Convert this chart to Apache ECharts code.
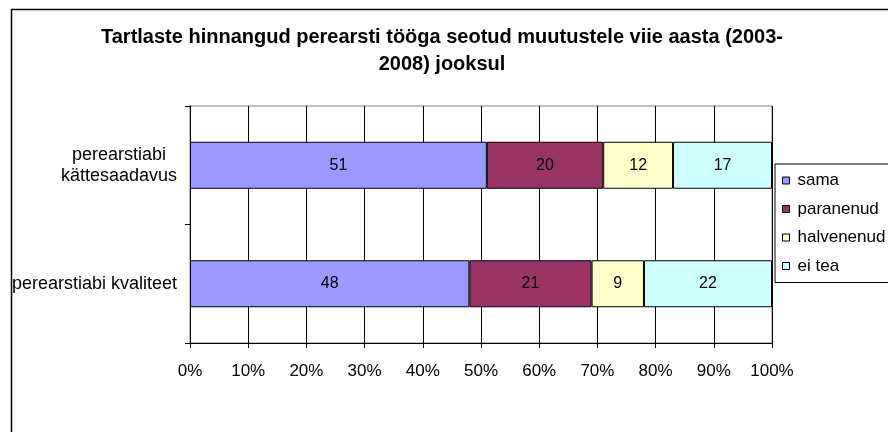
<!DOCTYPE html>
<html>
<head>
<meta charset="utf-8">
<script src="https://cdn.jsdelivr.net/npm/echarts@6/dist/echarts.min.js"></script>
<style>html,body{margin:0;padding:0;background:#fff}#c{width:888px;height:432px}</style>
</head>
<body>
<div id="c"></div>
<script>
var titleText = 'Tartlaste hinnangud perearsti tööga seotud muutustele viie aasta (2003-\n2008) jooksul';
var categories = ['perearstiabi\nkättesaadavus', 'perearstiabi kvaliteet'];
var seriesNames = ['sama', 'paranenud', 'halvenenud', 'ei tea'];
var sama = [51, 48];
var paranenud = [20, 21];
var halvenenud = [12, 9];
var eiTea = [17, 22];
var xTicks = [0, 10, 20, 30, 40, 50, 60, 70, 80, 90, 100];

var colors = ['#9999FF', '#993366', '#FFFFCC', '#CCFFFF'];
var values = [sama, paranenud, halvenenud, eiTea];
var font = 'Liberation Sans, Arial, sans-serif';

var chart = echarts.init(document.getElementById('c'), null, {renderer: 'canvas'});
chart.setOption({
  animation: false,
  backgroundColor: '#fff',
  title: {
    text: titleText,
    left: 442,
    textAlign: 'center',
    top: 24,
    padding: 0,
    textStyle: {fontFamily: font, fontWeight: 'bold', fontSize: 20, color: '#000', lineHeight: 27}
  },
  graphic: [{
    type: 'rect', left: 9, top: 7, z: -10,
    shape: {x: 0, y: 0, width: 1000, height: 1000},
    style: {fill: 'none', stroke: '#000', lineWidth: 1.5}
  }],
  legend: {
    orient: 'vertical',
    left: 775, top: 164,
    padding: [8, 40, 8, 7],
    itemGap: 11.5,
    itemWidth: 7, itemHeight: 7,
    icon: 'rect',
    borderColor: '#000', borderWidth: 1,
    textStyle: {fontFamily: font, fontSize: 17, lineHeight: 17, color: '#000', padding: [0, 0, 0, 3]},
    itemStyle: {borderColor: '#000', borderWidth: 1},
    data: seriesNames
  },
  grid: {
    left: 190, right: 116, top: 106, bottom: 89,
    show: true, borderColor: '#808080', borderWidth: 1
  },
  xAxis: {
    type: 'value', min: 0, max: 100, interval: 10,
    axisLine: {show: true, lineStyle: {color: '#000'}},
    axisTick: {show: true, length: 5, lineStyle: {color: '#000'}},
    splitLine: {show: true, lineStyle: {color: '#000'}},
    axisLabel: {
      margin: 20, fontFamily: font, fontSize: 17, color: '#000',
      formatter: function (v) { return xTicks.indexOf(v) >= 0 ? v + '%' : ''; }
    }
  },
  yAxis: {
    type: 'category', inverse: true, data: categories,
    axisLine: {show: true, lineStyle: {color: '#000'}},
    axisTick: {show: true, length: 5, lineStyle: {color: '#000'}},
    axisLabel: {
      margin: 13, fontFamily: font, fontSize: 18, color: '#000', lineHeight: 21,
      formatter: function (v) {
        return v.split('\n').map(function (s) { return '{c|' + s + '}'; }).join('\n');
      },
      rich: {c: {align: 'center', fontFamily: font, fontSize: 18, color: '#000', lineHeight: 21}}
    }
  },
  series: seriesNames.map(function (name, i) {
    return {
      name: name, type: 'bar', stack: 'total', barWidth: 47,
      data: values[i],
      itemStyle: {color: colors[i], borderColor: '#000', borderWidth: 1},
      label: {show: true, position: 'inside', fontFamily: font, fontSize: 16, color: '#000'}
    };
  })
});
</script>
</body>
</html>
